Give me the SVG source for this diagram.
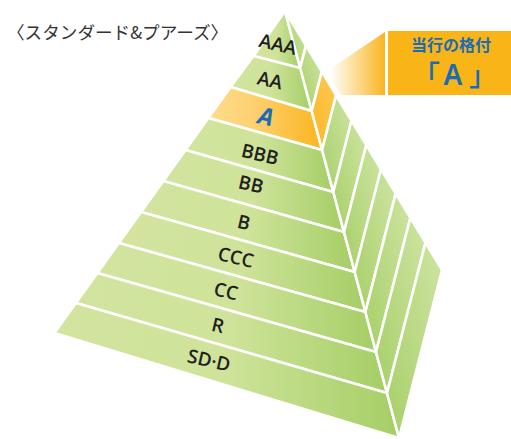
<svg xmlns="http://www.w3.org/2000/svg" width="511" height="439" viewBox="0 0 511 439">
<defs>
<linearGradient id="gf" x1="0" y1="0" x2="1" y2="0">
<stop offset="0" stop-color="#d2e49e"/><stop offset="0.5" stop-color="#cfe39a"/><stop offset="1" stop-color="#a5ce66"/>
</linearGradient>
<linearGradient id="go" x1="0" y1="0" x2="1" y2="0">
<stop offset="0" stop-color="#fedd8c"/><stop offset="0.4" stop-color="#fdd070"/><stop offset="1" stop-color="#fbb51f"/>
</linearGradient>
<linearGradient id="gr" x1="0" y1="1" x2="1" y2="0">
<stop offset="0" stop-color="#a6cf68"/><stop offset="1" stop-color="#cfe4a2"/>
</linearGradient>
<linearGradient id="gro" x1="0" y1="1" x2="1" y2="0">
<stop offset="0" stop-color="#fbb625"/><stop offset="1" stop-color="#fdca55"/>
</linearGradient>
<linearGradient id="gw" gradientUnits="userSpaceOnUse" x1="330" y1="0" x2="386" y2="0">
<stop offset="0" stop-color="#ffffff"/><stop offset="1" stop-color="#f9b41c"/>
</linearGradient>
<style>
.f{fill:url(#gf);stroke:#fff;stroke-width:2.6;stroke-linejoin:round}
.fo{fill:url(#go);stroke:#fff;stroke-width:2.6;stroke-linejoin:round}
.r{fill:url(#gr);stroke:#fff;stroke-width:2.6;stroke-linejoin:round}
.ro{fill:url(#gro);stroke:#fff;stroke-width:2.6;stroke-linejoin:round}
.lb{font-family:"Open Sans","Liberation Sans",sans-serif;font-weight:600;font-size:19px;fill:#231f20;text-anchor:middle}
.jp{font-family:"Noto Sans CJK JP",sans-serif}
.bl{fill:#1a6cb6}
</style>
</defs>
<text class="jp" x="7" y="39" font-size="17.6" fill="#333" font-weight="400">〈スタンダード&amp;プアーズ〉</text>
<g id="front">
<polygon id="band-AAA" class="f" points="285,11 253.5,56 300.2,68"/>
<polygon id="band-AA" class="f" points="253.5,56 230.6,87 311.7,111 300.2,68"/>
<polygon id="band-A" class="fo" points="230.6,87 208.4,118 322.1,150 311.7,111"/>
<polygon id="band-BBB" class="f" points="208.4,118 185.5,150 333.3,192 322.1,150"/>
<polygon id="band-BB" class="f" points="185.5,150 163.3,181 344,232 333.3,192"/>
<polygon id="band-B" class="f" points="163.3,181 141.1,212 354.7,272 344,232"/>
<polygon id="band-CCC" class="f" points="141.1,212 118.9,243 365.4,312 354.7,272"/>
<polygon id="band-CC" class="f" points="118.9,243 97.4,273 376,352 365.4,312"/>
<polygon id="band-R" class="f" points="97.4,273 75.9,303 387,393 376,352"/>
<polygon id="band-SDD" class="f" points="75.9,303 54.4,333 399,438 387,393"/>
</g>
<g id="side">
<polygon class="r" points="285,11 300.2,68 306,45.6"/>
<polygon class="r" points="300.2,68 311.7,111 321.8,71.7 306,45.6"/>
<polygon class="ro" points="311.7,111 322.1,150 336.1,95.3 321.8,71.7"/>
<polygon class="r" points="322.1,150 333.3,192 351.5,120.8 336.1,95.3"/>
<polygon class="r" points="333.3,192 344,232 366.3,145 351.5,120.8"/>
<polygon class="r" points="344,232 354.7,272 381,169.3 366.3,145"/>
<polygon class="r" points="354.7,272 365.4,312 395.7,193.6 381,169.3"/>
<polygon class="r" points="365.4,312 376,352 410.4,217.8 395.7,193.6"/>
<polygon class="r" points="376,352 387,393 425.5,242.7 410.4,217.8"/>
<polygon class="r" points="387,393 399,438 442,270 425.5,242.7"/>
</g>
<g id="labels">
<text class="lb" transform="translate(278,44) rotate(13)" y="7">AAA</text>
<text class="lb" transform="translate(270,80) rotate(13)" y="7">AA</text>
<text class="lb bl" transform="translate(266,117) rotate(13)" y="8" style="font-size:24px;font-weight:700;font-style:italic">A</text>
<text class="lb" transform="translate(260,154) rotate(13)" y="7">BBB</text>
<text class="lb" transform="translate(251,184) rotate(13)" y="7">BB</text>
<text class="lb" transform="translate(244,222) rotate(13)" y="7">B</text>
<text class="lb" transform="translate(236,257) rotate(13)" y="7">CCC</text>
<text class="lb" transform="translate(226,291) rotate(13)" y="7">CC</text>
<text class="lb" transform="translate(218,325) rotate(13)" y="7">R</text>
<text class="lb" transform="translate(209,360) rotate(13)" y="7">SD·D</text>
</g>
<g id="callout">
<polygon points="327,71 385,32 385,95 341,95" fill="url(#gw)"/>
<rect x="388" y="31" width="123" height="64" fill="#f9b418"/>
<text class="jp bl" x="451" y="51" font-size="16" font-weight="700" text-anchor="middle">当行の格付</text>
<text class="jp bl" x="412" y="86" font-size="28" font-weight="500">「</text>
<text class="bl" x="453" y="85" font-family="'Noto Sans','Liberation Sans',sans-serif" font-size="28" font-weight="600" text-anchor="middle">A</text>
<text class="jp bl" x="469" y="86" font-size="28" font-weight="500">」</text>
</g>
</svg>
